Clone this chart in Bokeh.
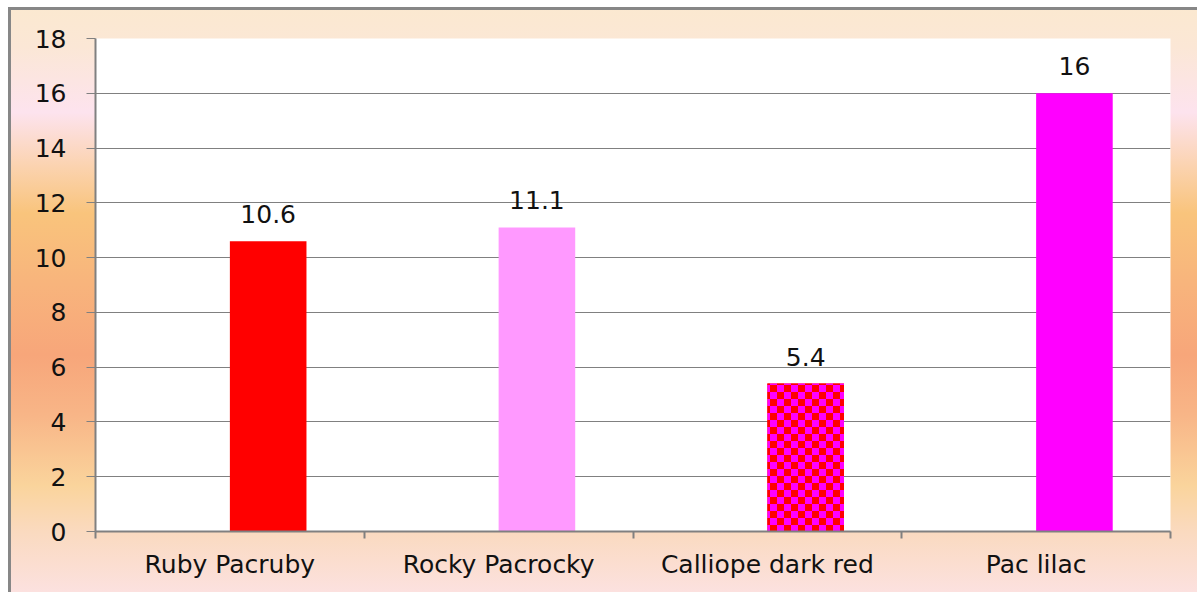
import base64
from bokeh.plotting import figure
from bokeh.models import (ColumnDataSource, FixedTicker, LabelSet, InlineStyleSheet,
                          ImageURLTexture)
from bokeh.core.properties import value
from bokeh.embed import file_html
from bokeh.resources import INLINE

# ---- data ----
categories = ["Ruby Pacruby", "Rocky Pacrocky", "Calliope dark red", "Pac lilac"]
values = [10.6, 11.1, 5.4, 16]
bar_colors = ["#ff0000", "#ff99ff", "#ff0000", "#ff00ff"]
bar_hatch = [" ", " ", "checker", " "]
y_ticks = [0, 2, 4, 6, 8, 10, 12, 14, 16, 18]

FONT = "DejaVu Sans"
GRAY = "#808080"

x_center = [i + 0.5 for i in range(len(categories))]
bar_x = [c + 0.1425 for c in x_center]

source = ColumnDataSource(dict(
    x=bar_x, top=values, color=bar_colors, hatch=bar_hatch,
    label=[f"{v:g}" for v in values],
))

checker_svg = ('<svg xmlns="http://www.w3.org/2000/svg" width="14" height="14">'
               '<rect width="14" height="14" fill="#ff0000"/>'
               '<rect width="7" height="7" fill="#ff00ff"/>'
               '<rect x="7" y="7" width="7" height="7" fill="#ff00ff"/></svg>')
checker_url = "data:image/svg+xml;base64," + base64.b64encode(checker_svg.encode()).decode()

p = figure(width=1197, height=592, x_range=(0, 4), y_range=(0, 18),
           output_backend="svg", toolbar_location=None,
           min_border_left=95, min_border_right=27, min_border_top=38, min_border_bottom=61)

p.border_fill_color = None
p.background_fill_color = "white"
p.outline_line_color = None

css = """
:host {
  background:
    linear-gradient(to bottom, #ffffff 0px, #ffffff 7px, transparent 7px),
    linear-gradient(to right, #ffffff 0px, #ffffff 8px, transparent 8px),
    linear-gradient(to bottom, transparent 7px, #878787 7px, #878787 10px, transparent 10px),
    linear-gradient(to right, transparent 8px, #878787 8px, #878787 11px, transparent 11px),
    linear-gradient(to bottom,
      #fbe9cf 0%, #fbe7d6 8%, #fde3ee 19%, #fbd3b0 28%, #f9c47c 36%,
      #f8b47c 48%, #f7a67a 60%, #f8b587 70%, #fad49c 82%, #fadac0 90%, #fce1df 100%);
}
"""
p.stylesheets = [InlineStyleSheet(css=css)]

p.vbar(x="x", top="top", bottom=0, width=0.285, source=source,
       fill_color="color", line_color=None,
       hatch_pattern="hatch", hatch_extra={"checker": ImageURLTexture(url=checker_url)})

# y axis
p.yaxis.ticker = FixedTicker(ticks=y_ticks)
p.yaxis.axis_line_color = GRAY
p.yaxis.axis_line_width = 2
p.yaxis.major_tick_line_color = GRAY
p.yaxis.major_tick_line_width = 1
p.yaxis.major_tick_out = 9
p.yaxis.major_tick_in = 0
p.yaxis.minor_tick_line_color = None
p.yaxis.major_label_standoff = 20
p.yaxis.major_label_text_font = FONT
p.yaxis.major_label_text_font_size = "25px"
p.yaxis.major_label_text_color = "#111111"

# x axis
p.xaxis.ticker = FixedTicker(ticks=x_center, minor_ticks=list(range(len(categories) + 1)))
p.xaxis.major_label_overrides = {x_center[i]: categories[i] for i in range(len(categories))}
p.xaxis.axis_line_color = GRAY
p.xaxis.axis_line_width = 2
p.xaxis.major_tick_line_color = None
p.xaxis.minor_tick_line_color = GRAY
p.xaxis.minor_tick_line_width = 2
p.xaxis.minor_tick_out = 7
p.xaxis.minor_tick_in = 0
p.xaxis.major_label_standoff = 11
p.xaxis.major_label_text_font = FONT
p.xaxis.major_label_text_font_size = "25px"
p.xaxis.major_label_text_color = "#111111"

p.xgrid.visible = False
p.ygrid.ticker = FixedTicker(ticks=y_ticks)
p.ygrid.grid_line_color = GRAY
p.ygrid.grid_line_width = 1

labels = LabelSet(x="x", y="top", text="label", source=source, y_offset=18,
                  text_align="center", text_baseline="alphabetic",
                  text_font=value(FONT), text_font_size="25px", text_color="#111111")
p.add_layout(labels)

open("out.html", "w").write(file_html(p, INLINE))
